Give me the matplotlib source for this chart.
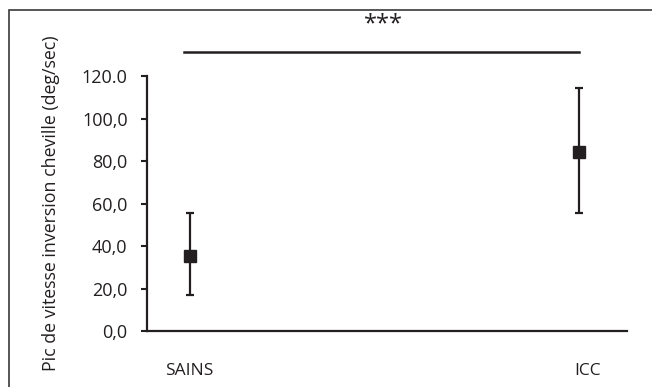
import matplotlib
matplotlib.use("Agg")
import matplotlib.pyplot as plt
from matplotlib.patches import Rectangle
from matplotlib.transforms import ScaledTranslation

# Data
categories = ["SAINS", "ICC"]
means = [35.5, 84.4]
err_low = [17.2, 55.7]
err_high = [55.7, 114.5]
yticks = [0, 20, 40, 60, 80, 100, 120]
ytick_labels = ["0,0", "20,0", "40,0", "60,0", "80,0", "100,0", "120.0"]
sig_label = "***"
ylabel = "Pic de vitesse inversion cheville (deg/sec)"

plt.rcParams['font.family'] = ['Open Sans', 'DejaVu Sans']
dark = "#231f20"

fig = plt.figure(figsize=(6.52, 3.87), dpi=100)
W, H = 652, 387
ax = fig.add_axes([147 / W, 1 - 331.3 / H, (627 - 147) / W, (331.3 - 76) / H])

xs = [1, 2]
yerr = [[m - l for m, l in zip(means, err_low)], [h - m for m, h in zip(means, err_high)]]
ax.errorbar(xs, means, yerr=yerr, fmt='s', color=dark, ecolor=dark,
            markersize=8, elinewidth=1.6, capsize=2.6, capthick=1.6, clip_on=False)

ax.set_xlim(0.8904, 2.1224)
ax.set_ylim(0, 120)
ax.set_yticks(yticks)
ax.set_yticklabels(ytick_labels)
ax.set_xticks(xs)
ax.set_xticklabels(categories)
ax.tick_params(axis='y', length=4.5, width=1.5, color=dark, pad=9.5,
               labelsize=13, labelcolor=dark)
ax.tick_params(axis='x', length=0, pad=23, labelsize=12.5, labelcolor=dark)
lbl = ax.get_xticklabels()[1]
lbl.set_transform(lbl.get_transform() + ScaledTranslation(8 / 100, 0, fig.dpi_scale_trans))

for s in ['top', 'right']:
    ax.spines[s].set_visible(False)
for s in ['left', 'bottom']:
    ax.spines[s].set_linewidth(1.6)
    ax.spines[s].set_color(dark)

ax.set_ylabel(ylabel, fontsize=12.8, color=dark)
ax.yaxis.set_label_coords(-0.181, 0.5)

# significance bar
ax.plot([0.9865, 2.0], [131.1, 131.1], color=dark, lw=1.8, clip_on=False)
ax.text(1.497, 144.3, sig_label, ha='center', va='center', fontsize=17, color=dark)

# figure border
fig.add_artist(Rectangle((9 / W, -0.1), 1.2, 1.1 - 10 / H, transform=fig.transFigure,
                         fill=False, edgecolor="#3a3a3a", lw=1.2))

fig.savefig("out.png", dpi=100)
